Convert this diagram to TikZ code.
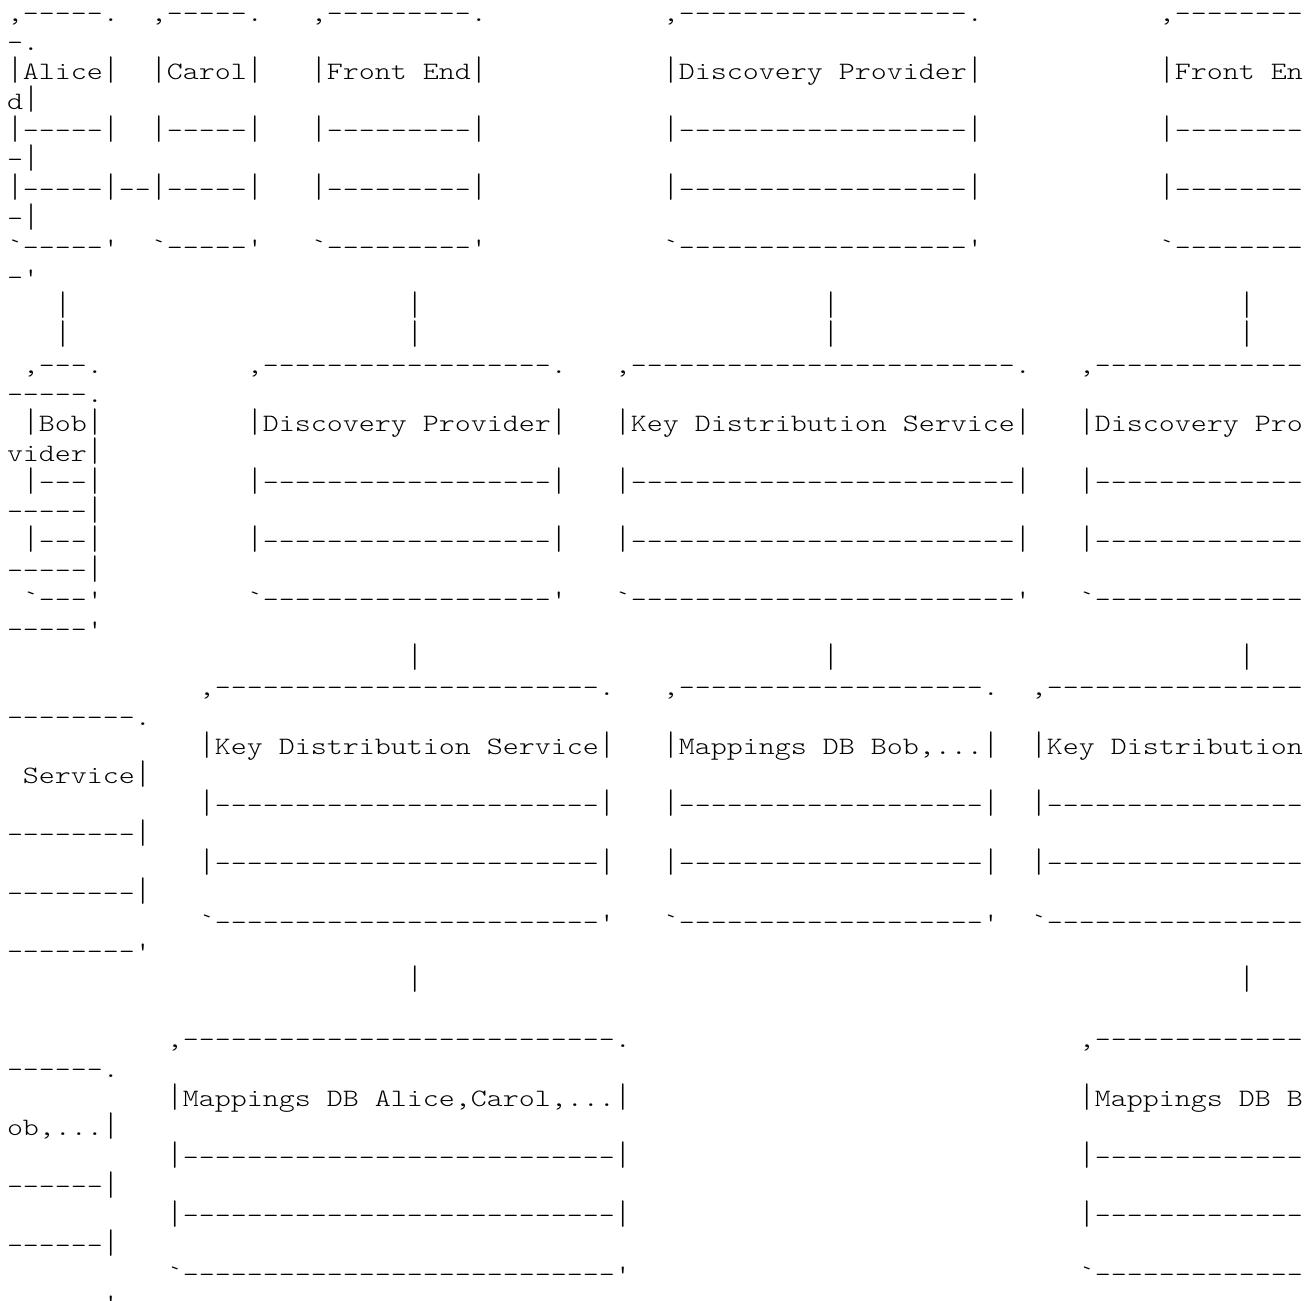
\documentclass[tikz,border=0pt]{standalone}
\usepackage{fontspec}
\usepackage{graphicx}
\setmonofont{lmmonolt10-regular.otf}[FakeStretch=1.219]
\usepackage{tikz}
\ExplSyntaxOn
\NewDocumentCommand\dashrun{m}{\prg_replicate:nn{#1}{-}}
\NewDocumentCommand\gap{m}{\prg_replicate:nn{#1}{\phantom{-}}}
\ExplSyntaxOff
\newcommand\vb{\raisebox{-0.3pt}{\scalebox{1}[1.36]{|}}}

\begin{document}
\begin{tikzpicture}[
  x=0.5pt,
  y=-0.5pt,
  declare function={liney(\n)=21.3+29.33*(\n-1);},
  asciiline/.style={
    anchor=base west,inner sep=0pt,outer sep=0pt,text=black,
    font=\ttfamily\fontsize{12.5pt}{14pt}\selectfont
  }
]
  \useasboundingbox (0,0) rectangle (1308,1301);

  % first tier: Alice, Carol, Front End, Discovery Provider, Front End
  \node[asciiline] (r1) at (7,{liney(1)}) {,\dashrun{5}.\gap{2},\dashrun{5}.\gap{3},\dashrun{9}.\gap{11},\dashrun{18}.\gap{11},\dashrun{8}};
  \node[asciiline] (r2) at (7,{liney(2)}) {-.};
  \node[asciiline] (r3) at (7,{liney(3)}) {\vb Alice\vb\gap{2}\vb Carol\vb\gap{3}\vb Front End\vb\gap{11}\vb Discovery Provider\vb\gap{11}\vb Front En};
  \node[asciiline] (r4) at (7,{liney(4)}) {d\vb};
  \node[asciiline] (r5) at (7,{liney(5)}) {\vb\dashrun{5}\vb\gap{2}\vb\dashrun{5}\vb\gap{3}\vb\dashrun{9}\vb\gap{11}\vb\dashrun{18}\vb\gap{11}\vb\dashrun{8}};
  \node[asciiline] (r6) at (7,{liney(6)}) {-\vb};
  \node[asciiline] (r7) at (7,{liney(7)}) {\vb\dashrun{5}\vb--\vb\dashrun{5}\vb\gap{3}\vb\dashrun{9}\vb\gap{11}\vb\dashrun{18}\vb\gap{11}\vb\dashrun{8}};
  \node[asciiline] (r8) at (7,{liney(8)}) {-\vb};
  \node[asciiline] (r9) at (7,{liney(9)}) {`\dashrun{5}'\gap{2}`\dashrun{5}'\gap{3}`\dashrun{9}'\gap{11}`\dashrun{18}'\gap{11}`\dashrun{8}};
  \node[asciiline] (r10) at (7,{liney(10)}) {-'};
  \node[asciiline] (r11) at (7,{liney(11)}) {\gap{3}\vb\gap{21}\vb\gap{25}\vb\gap{25}\vb};
  \node[asciiline] (r12) at (7,{liney(12)}) {\gap{3}\vb\gap{21}\vb\gap{25}\vb\gap{25}\vb};

  % second tier: Bob, Discovery Provider, Key Distribution Service, Discovery Provider
  \node[asciiline] (r13) at (7,{liney(13)}) {\gap{1},\dashrun{3}.\gap{9},\dashrun{18}.\gap{3},\dashrun{24}.\gap{3},\dashrun{13}};
  \node[asciiline] (r14) at (7,{liney(14)}) {\dashrun{5}.};
  \node[asciiline] (r15) at (7,{liney(15)}) {\gap{1}\vb Bob\vb\gap{9}\vb Discovery Provider\vb\gap{3}\vb Key Distribution Service\vb\gap{3}\vb Discovery Pro};
  \node[asciiline] (r16) at (7,{liney(16)}) {vider\vb};
  \node[asciiline] (r17) at (7,{liney(17)}) {\gap{1}\vb\dashrun{3}\vb\gap{9}\vb\dashrun{18}\vb\gap{3}\vb\dashrun{24}\vb\gap{3}\vb\dashrun{13}};
  \node[asciiline] (r18) at (7,{liney(18)}) {\dashrun{5}\vb};
  \node[asciiline] (r19) at (7,{liney(19)}) {\gap{1}\vb\dashrun{3}\vb\gap{9}\vb\dashrun{18}\vb\gap{3}\vb\dashrun{24}\vb\gap{3}\vb\dashrun{13}};
  \node[asciiline] (r20) at (7,{liney(20)}) {\dashrun{5}\vb};
  \node[asciiline] (r21) at (7,{liney(21)}) {\gap{1}`\dashrun{3}'\gap{9}`\dashrun{18}'\gap{3}`\dashrun{24}'\gap{3}`\dashrun{13}};
  \node[asciiline] (r22) at (7,{liney(22)}) {\dashrun{5}'};
  \node[asciiline] (r23) at (7,{liney(23)}) {\gap{25}\vb\gap{25}\vb\gap{25}\vb};

  % third tier: Key Distribution Service, Mappings DB Bob, Key Distribution Service
  \node[asciiline] (r24) at (7,{liney(24)}) {\gap{12},\dashrun{24}.\gap{3},\dashrun{19}.\gap{2},\dashrun{16}};
  \node[asciiline] (r25) at (7,{liney(25)}) {\dashrun{8}.};
  \node[asciiline] (r26) at (7,{liney(26)}) {\gap{12}\vb Key Distribution Service\vb\gap{3}\vb Mappings DB Bob,...\vb\gap{2}\vb Key Distribution};
  \node[asciiline] (r27) at (7,{liney(27)}) {\gap{1}Service\vb};
  \node[asciiline] (r28) at (7,{liney(28)}) {\gap{12}\vb\dashrun{24}\vb\gap{3}\vb\dashrun{19}\vb\gap{2}\vb\dashrun{16}};
  \node[asciiline] (r29) at (7,{liney(29)}) {\dashrun{8}\vb};
  \node[asciiline] (r30) at (7,{liney(30)}) {\gap{12}\vb\dashrun{24}\vb\gap{3}\vb\dashrun{19}\vb\gap{2}\vb\dashrun{16}};
  \node[asciiline] (r31) at (7,{liney(31)}) {\dashrun{8}\vb};
  \node[asciiline] (r32) at (7,{liney(32)}) {\gap{12}`\dashrun{24}'\gap{3}`\dashrun{19}'\gap{2}`\dashrun{16}};
  \node[asciiline] (r33) at (7,{liney(33)}) {\dashrun{8}'};
  \node[asciiline] (r34) at (7,{liney(34)}) {\gap{25}\vb\gap{51}\vb};

  % fourth tier: Mappings DB Alice,Carol and Mappings DB Bob
  \node[asciiline] (r36) at (7,{liney(36)}) {\gap{10},\dashrun{27}.\gap{28},\dashrun{13}};
  \node[asciiline] (r37) at (7,{liney(37)}) {\dashrun{6}.};
  \node[asciiline] (r38) at (7,{liney(38)}) {\gap{10}\vb Mappings DB Alice,Carol,...\vb\gap{28}\vb Mappings DB B};
  \node[asciiline] (r39) at (7,{liney(39)}) {ob,...\vb};
  \node[asciiline] (r40) at (7,{liney(40)}) {\gap{10}\vb\dashrun{27}\vb\gap{28}\vb\dashrun{13}};
  \node[asciiline] (r41) at (7,{liney(41)}) {\dashrun{6}\vb};
  \node[asciiline] (r42) at (7,{liney(42)}) {\gap{10}\vb\dashrun{27}\vb\gap{28}\vb\dashrun{13}};
  \node[asciiline] (r43) at (7,{liney(43)}) {\dashrun{6}\vb};
  \node[asciiline] (r44) at (7,{liney(44)}) {\gap{10}`\dashrun{27}'\gap{28}`\dashrun{13}};
  \node[asciiline] (r45) at (7,{liney(45)}) {\dashrun{6}'};
\end{tikzpicture}
\end{document}
